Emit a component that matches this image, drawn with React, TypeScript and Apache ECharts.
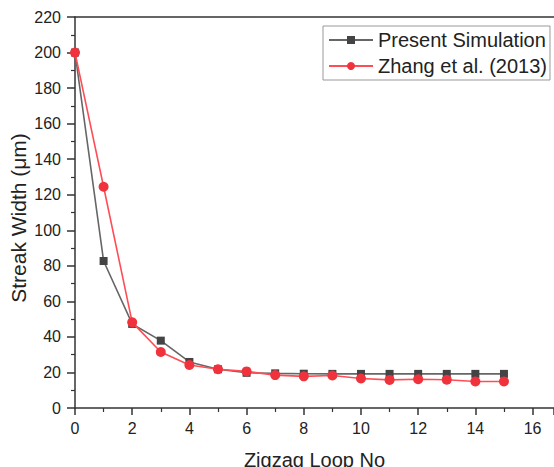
import React, { useEffect, useRef } from "react";
import * as echarts from "echarts";

const loops = [0, 1, 2, 3, 4, 5, 6, 7, 8, 9, 10, 11, 12, 13, 14, 15];
const presentSim = [200, 82.7, 47.3, 37.9, 25.9, 21.8, 19.8, 19.5, 19.3, 19.2, 19.2, 19.2, 19.2, 19.2, 19.2, 19.2];
const zhang2013 = [200, 124.5, 48.2, 31.5, 24.2, 21.8, 20.6, 18.5, 17.8, 18.3, 16.6, 15.8, 16.2, 15.9, 14.9, 14.9];
const seriesNames = ["Present Simulation", "Zhang et al. (2013)"];
const xTitle = "Zigzag Loop No";
const yTitle = "Streak Width (μm)";

const FONT = "'Liberation Sans', Arial, sans-serif";

export default function App() {
  const ref = useRef<HTMLDivElement>(null);
  useEffect(() => {
    if (!ref.current) return;
    const chart = echarts.init(ref.current, undefined, { renderer: "svg" });
    const toPairs = (vals: number[]) => loops.map((x, i) => [x, vals[i]]);
    chart.setOption({
      animation: false,
      backgroundColor: "#ffffff",
      textStyle: { fontFamily: FONT },
      grid: { left: 75, right: 0, top: 17, bottom: 59, containLabel: false, outerBoundsMode: "none" },
      legend: {
        orient: "vertical",
        left: 323,
        top: 26,
        itemWidth: 44,
        itemHeight: 10,
        itemGap: 6,
        padding: [4, 3, 4, 5],
        borderColor: "#999999",
        borderWidth: 1,
        textStyle: { fontFamily: FONT, fontSize: 20, color: "#222222" },
        data: seriesNames,
      },
      xAxis: [
        {
          type: "value",
          min: 0,
          max: 16.75,
          interval: 2,
          name: xTitle,
          nameLocation: "middle",
          nameGap: 42,
          nameMoveOverlap: false,
          nameTextStyle: { fontFamily: FONT, fontSize: 20, color: "#222222" },
          axisLine: { show: true, onZero: false, lineStyle: { color: "#333333", width: 1.5 } },
          axisTick: { show: true, length: 7, lineStyle: { color: "#333333", width: 1.5 } },
          minorTick: { show: true, splitNumber: 2, length: 4, lineStyle: { color: "#333333", width: 1.2 } },
          axisLabel: { fontFamily: FONT, fontSize: 16, color: "#222222", margin: 12, showMaxLabel: false },
          splitLine: { show: false },
        },
        {
          type: "value",
          position: "top",
          min: 0,
          max: 16.75,
          interval: 2,
          axisLine: { show: true, onZero: false, lineStyle: { color: "#333333", width: 1.5 } },
          axisTick: { show: false },
          axisLabel: { show: false },
          splitLine: { show: false },
        },
      ],
      yAxis: {
        type: "value",
        min: 0,
        max: 220,
        interval: 20,
        name: yTitle,
        nameLocation: "middle",
        nameGap: 46,
        nameMoveOverlap: false,
        nameTextStyle: { fontFamily: FONT, fontSize: 21, color: "#222222", padding: [0, 11, 0, 0] },
        axisLine: { show: true, onZero: false, lineStyle: { color: "#333333", width: 1.5 } },
        axisTick: { show: true, length: 8, lineStyle: { color: "#333333", width: 1.5 } },
        minorTick: { show: true, splitNumber: 2, length: 4, lineStyle: { color: "#333333", width: 1.2 } },
        axisLabel: { fontFamily: FONT, fontSize: 16, color: "#222222", margin: 14 },
        splitLine: { show: false },
      },
      series: [
        {
          name: seriesNames[0],
          type: "line",
          data: toPairs(presentSim),
          symbol: "rect",
          symbolSize: 8,
          itemStyle: { color: "#444444" },
          lineStyle: { color: "#666666", width: 1.6 },
          z: 2,
        },
        {
          name: seriesNames[1],
          type: "line",
          data: toPairs(zhang2013),
          symbol: "circle",
          symbolSize: 10,
          itemStyle: { color: "#f0323c" },
          lineStyle: { color: "#ff4d55", width: 1.6 },
          z: 3,
        },
      ],
    });
    return () => chart.dispose();
  }, []);
  return <div ref={ref} style={{ width: 554, height: 467, position: "absolute", left: 0, top: 0 }} />;
}
